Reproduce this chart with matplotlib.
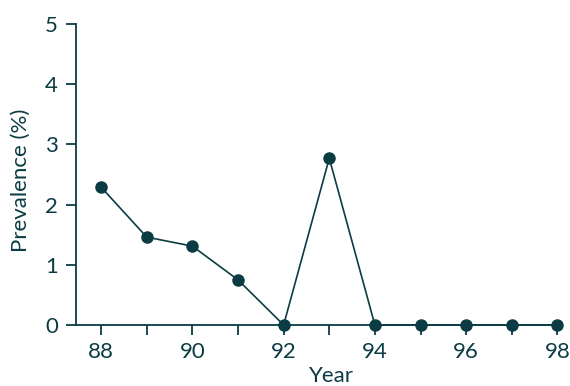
import matplotlib
matplotlib.use("Agg")
import matplotlib.pyplot as plt

years = [88, 89, 90, 91, 92, 93, 94, 95, 96, 97, 98]
prevalence = [2.29, 1.46, 1.31, 0.75, 0.0, 2.77, 0.0, 0.0, 0.0, 0.0, 0.0]
x_ticks = [88, 90, 92, 94, 96, 98]
x_minor = [89, 91, 93, 95, 97]
y_ticks = [0, 1, 2, 3, 4, 5]

ink = "#0b3c44"
plt.rcParams["font.family"] = ["Lato", "DejaVu Sans"]

fig = plt.figure(figsize=(5.7, 3.86), dpi=100)
ax = fig.add_axes([76 / 570, 1 - 325 / 386, (562 - 76) / 570, (325 - 24) / 386])

ax.plot(years, prevalence, color=ink, lw=1.2, marker="o", ms=8,
        markerfacecolor=ink, markeredgecolor=ink, clip_on=False, zorder=3)

ax.set_xlim(87.45, 98.1)
ax.set_ylim(0, 5)
ax.set_xticks(x_ticks)
ax.set_xticks(x_minor, minor=True)
ax.set_yticks(y_ticks)

for s in ["top", "right"]:
    ax.spines[s].set_visible(False)
for s in ["left", "bottom"]:
    ax.spines[s].set_color(ink)
    ax.spines[s].set_linewidth(1.3)

ax.tick_params(axis="both", which="both", direction="out", color=ink,
               labelcolor=ink, width=1.3, labelsize=16)
ax.tick_params(axis="x", which="both", length=7, pad=5)
ax.tick_params(axis="y", length=7, pad=6)

ax.set_xlabel("Year", color=ink, fontsize=16)
ax.set_ylabel("Prevalence (%)", color=ink, fontsize=16)
ax.xaxis.set_label_coords((331 - 76) / (562 - 76), -(376 - 325) / (325 - 24), transform=ax.transAxes)
ax.yaxis.set_label_coords(-(76 - 21) / (562 - 76), (325 - 180) / (325 - 24), transform=ax.transAxes)
ax.xaxis.label.set_va("center")
ax.yaxis.label.set_va("center")

fig.savefig("out.png", dpi=100)
